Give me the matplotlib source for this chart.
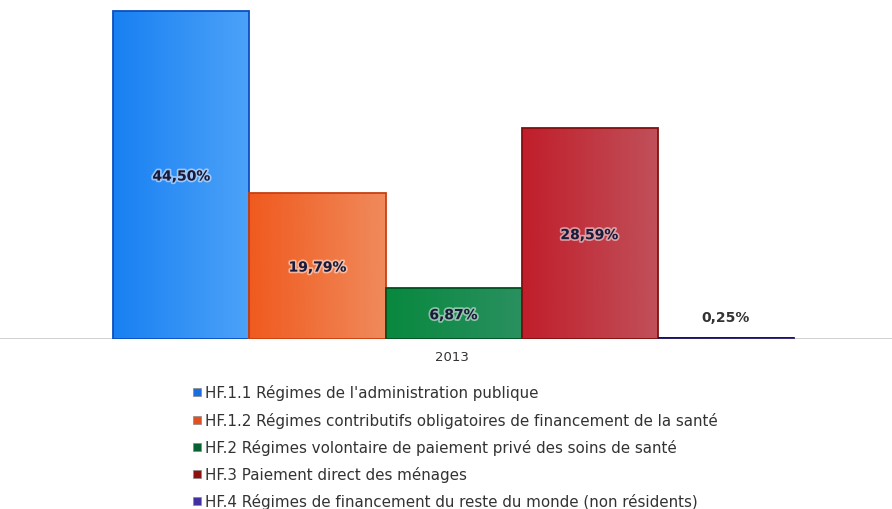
import numpy as np
import matplotlib
matplotlib.use("Agg")
import matplotlib.pyplot as plt
import matplotlib.patheffects as pe
from matplotlib.colors import LinearSegmentedColormap
from matplotlib.patches import Rectangle

categories = ["HF.1.1 Régimes de l'administration publique",
              "HF.1.2 Régimes contributifs obligatoires de financement de la santé",
              "HF.2 Régimes volontaire de paiement privé des soins de santé",
              "HF.3 Paiement direct des ménages",
              "HF.4 Régimes de financement du reste du monde (non résidents)"]
values = [44.50, 19.79, 6.87, 28.59, 0.25]
labels = ["44,50%", "19,79%", "6,87%", "28,59%", "0,25%"]
year_label = "2013"

left_colors = ["#1880f2", "#f05a1e", "#08883e", "#c01e2a", "#2a2070"]
right_colors = ["#4ca2f8", "#f08a5c", "#2a9060", "#c0505a", "#3a3080"]
edge_colors = ["#0a50c0", "#c84010", "#005020", "#801010", "#1a1050"]
edge_widths = [1.3, 1.3, 1.3, 1.3, 0.6]
legend_colors = ["#1a6ee0", "#e05020", "#0a6030", "#901010", "#4030a0"]

fig = plt.figure(figsize=(8.92, 5.10), dpi=100)
ax = fig.add_axes([0, 170/510, 1, 340/510])
ax.set_xlim(-181.5/136, (892-181.5)/136)
ax.set_ylim(0, 340/7.37)
for s in ax.spines.values():
    s.set_visible(False)
ax.set_xticks([])
ax.set_yticks([])
ax.axhline(0, color="#c8c8c8", lw=1.2, zorder=1)

x = np.arange(len(values))
bars = ax.bar(x, values, width=1.0, color="none", edgecolor=edge_colors, linewidth=edge_widths, zorder=3)
grad = np.linspace(0, 1, 256).reshape(1, -1)
for i, b in enumerate(bars):
    cmap = LinearSegmentedColormap.from_list(f"g{i}", [left_colors[i], right_colors[i]])
    x0, y0 = b.get_x(), b.get_y()
    w, h = b.get_width(), b.get_height()
    im = ax.imshow(grad, cmap=cmap, aspect="auto", extent=[x0, x0 + w, y0, y0 + h], zorder=2)
    clip = Rectangle((x0, y0), w, h, transform=ax.transData)
    im.set_clip_path(clip)

for i, (v, lab) in enumerate(zip(values, labels)):
    if v > 3:
        ax.text(x[i], v / 2 - 0.2, lab, ha="center", va="center", fontsize=10, fontweight="bold",
                color="#1a1a3a", zorder=5,
                path_effects=[pe.withStroke(linewidth=2.5, foreground=(1, 1, 1, 0.5))])
    else:
        ax.text(x[i], 3.0, lab, ha="center", va="center", fontsize=10, fontweight="bold",
                color="#333333", zorder=5)

fig.text(452/892, 1 - 358/510, year_label, ha="center", va="center", fontsize=9.5, color="#333333")

ys = [393, 421, 448, 475, 502]
for i, cat in enumerate(categories):
    yy = 1 - ys[i] / 510
    fig.patches.append(Rectangle((193/892, yy - 4/510), 8/892, 8/510, transform=fig.transFigure,
                                 facecolor=legend_colors[i], edgecolor="#888888", lw=0.5))
    fig.text(205/892, yy, cat, ha="left", va="center", fontsize=10.9, color="#333333")

fig.savefig("out.png", dpi=100)
